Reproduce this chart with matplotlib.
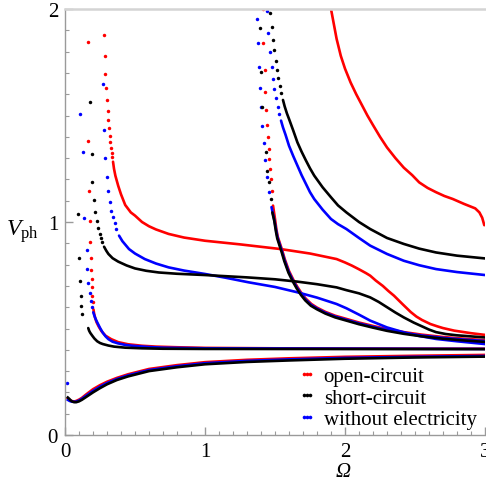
import matplotlib
matplotlib.use("Agg")
import matplotlib.pyplot as plt
from matplotlib.lines import Line2D
from matplotlib.ticker import MultipleLocator, FixedLocator

plt.rcParams["font.family"] = ["Liberation Serif", "DejaVu Serif"]
plt.rcParams["mathtext.fontset"] = "custom"
plt.rcParams["mathtext.rm"] = "Liberation Serif"
plt.rcParams["mathtext.it"] = "Liberation Serif:italic"

RED = "#ff0000"
BLACK = "#000000"
BLUE = "#0000ff"

# ========= 讀圖數據 (Omega, V_ph) =========
# --- 基階 (mode 0) ---
M0_X = [0.02, 0.03, 0.04, 0.05, 0.06, 0.07, 0.08, 0.10, 0.12, 0.15, 0.20,
        0.25, 0.30, 0.37, 0.45, 0.60, 0.80, 1.00, 1.30, 1.60, 2.00, 2.50, 3.00]
M0_RED = [0.172, 0.166, 0.162, 0.159, 0.158, 0.158, 0.160, 0.166, 0.174,
          0.190, 0.215, 0.234, 0.250, 0.268, 0.285, 0.310, 0.328, 0.342,
          0.353, 0.360, 0.367, 0.372, 0.376]
M0_BLUE = [0.165, 0.161, 0.158, 0.157, 0.156, 0.156, 0.157, 0.162, 0.170,
           0.184, 0.207, 0.227, 0.244, 0.263, 0.280, 0.305, 0.323, 0.337,
           0.348, 0.355, 0.362, 0.367, 0.371]
M0_BLACK = [0.176, 0.170, 0.163, 0.158, 0.155, 0.154, 0.154, 0.158, 0.165,
            0.178, 0.200, 0.220, 0.238, 0.258, 0.275, 0.300, 0.318, 0.332,
            0.343, 0.350, 0.358, 0.364, 0.368]
BLUE_M0_DOTS = [(0.012, 0.244)]

# --- mode 1 (漸近 ~0.41) ---
RED_M1_DOTS = [(0.163, 1.846), (0.166, 1.379), (0.173, 1.146), (0.178, 1.003),
               (0.180, 0.906), (0.183, 0.831), (0.187, 0.776), (0.190, 0.732),
               (0.193, 0.695), (0.196, 0.654), (0.200, 0.624)]
RED_M1 = [(0.203, 0.590), (0.208, 0.570), (0.215, 0.550), (0.225, 0.530),
          (0.240, 0.510), (0.260, 0.488), (0.290, 0.466), (0.330, 0.450),
          (0.380, 0.436), (0.450, 0.426), (0.550, 0.419), (0.650, 0.415),
          (0.800, 0.412), (1.000, 0.409), (1.500, 0.407), (2.000, 0.406),
          (3.000, 0.405)]
BLUE_M1_DOTS = [(0.109, 1.505), (0.128, 1.327), (0.136, 1.017), (0.154, 0.869),
                (0.159, 0.778), (0.166, 0.714), (0.176, 0.667), (0.186, 0.629),
                (0.195, 0.600)]
BLUE_M1 = [(0.202, 0.576), (0.210, 0.560), (0.220, 0.543), (0.230, 0.529),
           (0.250, 0.503), (0.270, 0.480), (0.290, 0.463), (0.310, 0.450),
           (0.340, 0.438), (0.380, 0.430), (0.430, 0.423), (0.480, 0.419),
           (0.600, 0.413), (0.700, 0.410), (1.000, 0.407), (3.000, 0.404)]
BLACK_M1_DOTS = [(0.094, 1.037), (0.100, 0.831), (0.106, 0.723), (0.111, 0.651),
                 (0.115, 0.604), (0.120, 0.567)]
BLACK_M1 = [(0.166, 0.502), (0.172, 0.490), (0.180, 0.480), (0.195, 0.466),
            (0.210, 0.453), (0.230, 0.440), (0.250, 0.432), (0.270, 0.427),
            (0.310, 0.420), (0.350, 0.415), (0.430, 0.410), (0.550, 0.407),
            (0.700, 0.405), (1.000, 0.404), (3.000, 0.403)]

# --- mode 2 ---
RED_M2_DOTS = [(0.279, 1.880), (0.283, 1.780), (0.288, 1.697), (0.295, 1.628),
               (0.298, 1.571), (0.305, 1.520), (0.310, 1.477), (0.314, 1.440),
               (0.319, 1.405), (0.324, 1.376), (0.329, 1.349), (0.333, 1.325),
               (0.338, 1.304)]
RED_M2 = [(0.343, 1.283), (0.350, 1.250), (0.360, 1.217), (0.380, 1.170),
          (0.400, 1.130), (0.430, 1.080), (0.470, 1.045), (0.500, 1.030),
          (0.550, 1.000), (0.600, 0.980), (0.650, 0.965), (0.740, 0.944),
          (0.850, 0.927), (1.000, 0.912), (1.250, 0.895), (1.540, 0.873),
          (1.750, 0.852), (1.940, 0.826), (2.000, 0.810), (2.050, 0.795),
          (2.100, 0.778), (2.150, 0.760), (2.180, 0.748), (2.220, 0.725),
          (2.270, 0.700), (2.310, 0.676), (2.350, 0.654), (2.410, 0.615),
          (2.470, 0.577), (2.510, 0.556), (2.550, 0.540), (2.610, 0.521),
          (2.660, 0.510), (2.700, 0.502), (2.780, 0.490), (2.900, 0.478),
          (3.000, 0.470)]
BLUE_M2_DOTS = [(0.269, 1.650), (0.279, 1.433), (0.288, 1.300), (0.298, 1.211),
                (0.307, 1.146), (0.319, 1.096), (0.331, 1.053), (0.343, 1.022),
                (0.355, 0.994), (0.367, 0.967)]
BLUE_M2 = [(0.386, 0.936), (0.410, 0.910), (0.457, 0.873), (0.500, 0.852),
           (0.570, 0.826), (0.650, 0.805), (0.740, 0.787), (0.850, 0.772),
           (1.000, 0.756), (1.150, 0.738), (1.310, 0.717), (1.500, 0.695),
           (1.660, 0.670), (1.800, 0.645), (1.940, 0.615), (2.010, 0.595),
           (2.100, 0.565), (2.180, 0.537), (2.300, 0.505), (2.420, 0.482),
           (2.530, 0.465), (2.650, 0.451), (2.800, 0.440), (3.000, 0.427)]
BLACK_M2_DOTS = [(0.180, 1.565), (0.190, 1.320), (0.195, 1.190), (0.207, 1.105),
                 (0.216, 1.047), (0.229, 1.003), (0.238, 0.973), (0.248, 0.946),
                 (0.257, 0.923), (0.267, 0.904)]
BLACK_M2 = [(0.279, 0.884), (0.295, 0.865), (0.310, 0.850), (0.340, 0.830),
            (0.380, 0.814), (0.440, 0.796), (0.500, 0.782), (0.580, 0.771),
            (0.670, 0.763), (0.800, 0.757), (1.000, 0.751), (1.300, 0.740),
            (1.500, 0.731), (1.660, 0.720), (1.800, 0.708), (1.940, 0.693),
            (2.010, 0.680), (2.100, 0.665), (2.180, 0.646), (2.240, 0.625),
            (2.300, 0.600), (2.360, 0.575), (2.420, 0.552), (2.490, 0.528),
            (2.550, 0.510), (2.600, 0.495), (2.650, 0.483), (2.720, 0.474),
            (2.800, 0.468), (3.000, 0.458)]

# --- mode 3 ---
RED_M3_DOTS = [(1.414, 2.000), (1.417, 1.839), (1.426, 1.714), (1.431, 1.612),
               (1.438, 1.526), (1.443, 1.457), (1.448, 1.397), (1.455, 1.343),
               (1.460, 1.296), (1.464, 1.249), (1.469, 1.202), (1.476, 1.147)]
RED_M3 = [(1.486, 1.077), (1.500, 1.014), (1.510, 0.965), (1.520, 0.930),
          (1.535, 0.900), (1.550, 0.870), (1.570, 0.825), (1.600, 0.770),
          (1.630, 0.730), (1.660, 0.695), (1.690, 0.665), (1.720, 0.640),
          (1.760, 0.615), (1.800, 0.598), (1.860, 0.578), (1.930, 0.560),
          (2.010, 0.545), (2.100, 0.528), (2.200, 0.512), (2.300, 0.497),
          (2.420, 0.483), (2.550, 0.471), (2.700, 0.460), (2.850, 0.452),
          (3.000, 0.445)]
BLUE_M3_DOTS = [(1.374, 1.953), (1.376, 1.839), (1.386, 1.730), (1.393, 1.630),
                (1.400, 1.540), (1.405, 1.452), (1.418, 1.370), (1.430, 1.290),
                (1.445, 1.210), (1.460, 1.140)]
BLUE_M3 = [(1.475, 1.070), (1.495, 1.010), (1.508, 0.962), (1.518, 0.927),
           (1.533, 0.896), (1.548, 0.866), (1.568, 0.821), (1.598, 0.766),
           (1.628, 0.726), (1.658, 0.691), (1.688, 0.661), (1.718, 0.636),
           (1.758, 0.611), (1.800, 0.594), (1.860, 0.574), (1.930, 0.556),
           (2.010, 0.541), (2.100, 0.524), (2.200, 0.508), (2.300, 0.493),
           (2.420, 0.479), (2.550, 0.467), (2.700, 0.456), (2.850, 0.448),
           (3.000, 0.441)]
BLACK_M3_DOTS = [(1.393, 1.911), (1.402, 1.703), (1.410, 1.538), (1.433, 1.327),
                 (1.445, 1.241), (1.457, 1.186), (1.469, 1.108)]
BLACK_M3 = [(1.481, 1.045), (1.495, 1.005), (1.506, 0.958), (1.516, 0.923),
            (1.531, 0.892), (1.546, 0.862), (1.566, 0.817), (1.596, 0.762),
            (1.626, 0.722), (1.656, 0.687), (1.686, 0.657), (1.716, 0.632),
            (1.756, 0.607), (1.800, 0.590), (1.860, 0.570), (1.930, 0.552),
            (2.010, 0.537), (2.100, 0.520), (2.200, 0.504), (2.300, 0.489),
            (2.420, 0.475), (2.550, 0.463), (2.700, 0.452), (2.850, 0.444),
            (3.000, 0.437)]

# --- mode 4 ---
RED_M4 = [(1.900, 2.000), (1.920, 1.930), (1.940, 1.860), (1.970, 1.780),
          (2.000, 1.720), (2.040, 1.655), (2.080, 1.600), (2.120, 1.550),
          (2.160, 1.500), (2.200, 1.455), (2.250, 1.400), (2.300, 1.350),
          (2.360, 1.300), (2.420, 1.255), (2.480, 1.220), (2.530, 1.186),
          (2.590, 1.160), (2.650, 1.140), (2.710, 1.122), (2.770, 1.108),
          (2.850, 1.085), (2.930, 1.064), (2.960, 1.045), (2.980, 1.020),
          (2.995, 0.985)]
BLUE_M4_DOTS = [(1.445, 1.990), (1.452, 1.887), (1.464, 1.800), (1.476, 1.730),
                (1.486, 1.671), (1.495, 1.624), (1.507, 1.581), (1.519, 1.541),
                (1.531, 1.507)]
BLUE_M4 = [(1.543, 1.476), (1.557, 1.444), (1.575, 1.410), (1.600, 1.358),
           (1.630, 1.310), (1.660, 1.265), (1.690, 1.220), (1.720, 1.180),
           (1.750, 1.140), (1.780, 1.108), (1.840, 1.058), (1.900, 1.014),
           (1.950, 0.990), (2.010, 0.967), (2.100, 0.925), (2.180, 0.889),
           (2.300, 0.850), (2.420, 0.818), (2.530, 0.797), (2.650, 0.779),
           (2.800, 0.765), (3.000, 0.751)]
BLACK_M4_DOTS = [(1.464, 1.980), (1.476, 1.914), (1.486, 1.856), (1.495, 1.806),
                 (1.505, 1.758), (1.514, 1.714), (1.524, 1.675), (1.536, 1.637),
                 (1.545, 1.604)]
BLACK_M4 = [(1.557, 1.573), (1.569, 1.543), (1.585, 1.510), (1.600, 1.484),
            (1.630, 1.430), (1.660, 1.374), (1.690, 1.330), (1.720, 1.290),
            (1.750, 1.252), (1.780, 1.218), (1.840, 1.163), (1.900, 1.116),
            (1.950, 1.078), (2.010, 1.045), (2.100, 1.000), (2.180, 0.967),
            (2.300, 0.925), (2.420, 0.897), (2.530, 0.875), (2.650, 0.857),
            (2.800, 0.842), (3.000, 0.829)]

LABELS = ["open-circuit", "short-circuit", "without electricity"]


def draw_dots(ax, pts, color):
    xs, ys = zip(*pts)
    ax.plot(xs, ys, "o", ms=2.5, mew=0, color=color)


def draw_curve(ax, pts, color):
    xs, ys = zip(*pts)
    ax.plot(xs, ys, "-", lw=1.9, color=color,
            solid_joinstyle="round", solid_capstyle="round")


fig = plt.figure(figsize=(4.86, 4.85), dpi=100)
ax = fig.add_axes([65 / 486, 49 / 485, 420 / 486, 426 / 485])

# 紅
ax.plot(M0_X, M0_RED, "-", lw=1.9, color=RED)
for d, c in [(RED_M1_DOTS, RED_M1), (RED_M2_DOTS, RED_M2), (RED_M3_DOTS, RED_M3)]:
    draw_dots(ax, d, RED)
    draw_curve(ax, c, RED)
draw_curve(ax, RED_M4, RED)

# 藍
ax.plot(M0_X, M0_BLUE, "-", lw=1.9, color=BLUE)
draw_dots(ax, BLUE_M0_DOTS, BLUE)
for d, c in [(BLUE_M1_DOTS, BLUE_M1), (BLUE_M2_DOTS, BLUE_M2),
             (BLUE_M3_DOTS, BLUE_M3), (BLUE_M4_DOTS, BLUE_M4)]:
    draw_dots(ax, d, BLUE)
    draw_curve(ax, c, BLUE)

# 黑
ax.plot(M0_X, M0_BLACK, "-", lw=1.9, color=BLACK)
for d, c in [(BLACK_M1_DOTS, BLACK_M1), (BLACK_M2_DOTS, BLACK_M2),
             (BLACK_M3_DOTS, BLACK_M3), (BLACK_M4_DOTS, BLACK_M4)]:
    draw_dots(ax, d, BLACK)
    draw_curve(ax, c, BLACK)

ax.set_xlim(0, 3)
ax.set_ylim(0, 2)

# 座標軸樣式
for s in ("left", "bottom"):
    ax.spines[s].set_color("#9a9a9a")
    ax.spines[s].set_linewidth(1.0)
ax.spines["top"].set_color("#d4d4d4")
ax.spines["top"].set_linewidth(1.8)
ax.spines["right"].set_visible(False)

ax.xaxis.set_major_locator(FixedLocator([0, 1, 2, 3]))
ax.yaxis.set_major_locator(FixedLocator([0, 1, 2]))
ax.xaxis.set_minor_locator(MultipleLocator(0.1))
ax.yaxis.set_minor_locator(MultipleLocator(0.1))
ax.tick_params(which="both", direction="in", color="#9a9a9a", top=False, right=False)
ax.tick_params(which="major", length=6, width=1, labelsize=15, pad=5)
ax.tick_params(which="minor", length=3, width=0.8)

ax.text(-0.102, 0.48, r"$V_{\mathrm{ph}}$", transform=ax.transAxes,
        fontsize=17, ha="center", va="center")
ax.text(0.663, -0.086, "Ω", transform=ax.transAxes, fontsize=15,
        style="italic", ha="center", va="center")

handles = [Line2D([], [], color=c, marker="o", ls="none", ms=2.6, mew=0)
           for c in (RED, BLACK, BLUE)]
ax.legend(handles, LABELS, loc="lower right", bbox_to_anchor=(1.0, -0.005),
          numpoints=3, handlelength=0.9, handletextpad=0.35, labelspacing=0.08,
          borderaxespad=0.0, frameon=False, fontsize=15)

plt.savefig("out.png", dpi=100)
plt.close()
